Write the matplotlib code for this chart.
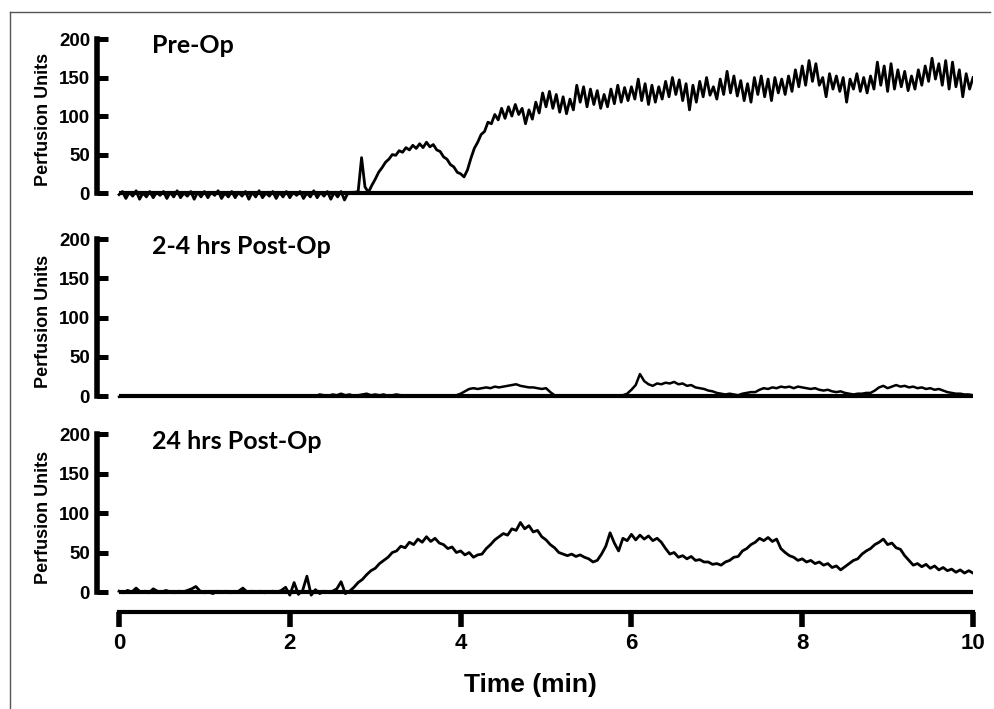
import matplotlib
matplotlib.use("Agg")
import matplotlib.pyplot as plt
import numpy as np
from matplotlib.lines import Line2D

# ---------------------------------------------------------------------------
# Data (perfusion units vs time in min)
# ---------------------------------------------------------------------------
panel_titles = ["Pre-Op", "2-4 hrs Post-Op", "24 hrs Post-Op"]
y_ticks = [0, 50, 100, 150, 200]
x_ticks = [0, 2, 4, 6, 8, 10]

# Pre-Op, sampled every 0.04 min
pre_op = [
    -2, 2, -7, 1, -4, 3, -8, 0, -5, 2, -6, 1, -3, 2, -7, 1, -5, 3, -6, 0,
    -4, 2, -8, 1, -5, 2, -6, 1, -3, 3, -7, 0, -5, 2, -6, 1, -4, 2, -8, 1,
    -5, 3, -6, 0, -4, 2, -7, 1, -5, 2, -6, 1, -3, 2, -7, 0, -5, 3, -6, 1,
    -4, 2, -8, 1, -5, 2, -9, 0, 1, 1, 2, 46, 8, 1, 10, 18, 27, 33, 40, 44,
    50, 49, 55, 53, 59, 56, 62, 58, 64, 59, 66, 60, 63, 56, 54, 47, 44, 37, 34, 27,
    25, 21, 30, 45, 58, 66, 76, 80, 92, 90, 102, 95, 110, 97, 112, 100, 115, 102, 110, 90,
    108, 96, 118, 104, 130, 112, 132, 110, 128, 105, 125, 103, 122, 108, 140, 118, 138, 112, 135, 115,
    133, 110, 128, 112, 135, 116, 140, 118, 137, 120, 138, 122, 148, 120, 142, 115, 140, 118, 138, 122,
    145, 125, 150, 128, 147, 120, 142, 108, 140, 118, 145, 125, 150, 127, 138, 122, 148, 128, 158, 130,
    152, 126, 146, 120, 142, 118, 150, 128, 152, 125, 148, 120, 150, 130, 148, 128, 152, 132, 160, 138,
    165, 140, 172, 145, 168, 140, 150, 125, 155, 135, 152, 132, 150, 118, 148, 135, 155, 132, 150, 130,
    152, 135, 170, 140, 165, 132, 168, 135, 160, 138, 158, 133, 152, 135, 160, 140, 165, 145, 175, 148,
    168, 140, 172, 135, 170, 138, 160, 125, 155, 135, 150,
]

# 2-4 hrs Post-Op, sampled every 0.05 min
post_2_4 = [
    -1, 0, -1, 0, -1, 0, -1, 0, -1, 0, -1, 0, 0, 0, 0, 0, 0, 0, 0, 0,
    0, 0, 0, 0, 0, 0, 0, 0, 0, 0, 0, 0, 0, 0, 0, 0, 0, 0, 0, 0,
    0, 0, 0, 0, 0, 1, 0, 2, 1, 0, 2, 1, 3, 1, 2, 0, 1, 2, 3, 1,
    2, 1, 2, 0, 1, 2, 1, 0, 0, 1, 0, 0, 1, 0, 0, 1, 0, 0, 1, 1,
    3, 6, 9, 10, 9, 10, 11, 10, 12, 11, 12, 13, 14, 15, 13, 12, 11, 11, 10, 9,
    10, 5, 1, 0, 0, 0, 0, 0, 0, 0, 0, 0, 0, 0, 0, 0, 0, 0, 1, 3,
    8, 14, 28, 19, 15, 13, 16, 15, 17, 16, 18, 15, 16, 13, 14, 11, 10, 9, 7, 6,
    4, 3, 2, 3, 2, 1, 3, 4, 5, 5, 8, 10, 9, 11, 10, 12, 11, 12, 10, 12,
    11, 10, 9, 10, 8, 7, 8, 6, 5, 6, 4, 3, 2, 3, 3, 4, 4, 7, 11, 13,
    10, 12, 14, 12, 13, 11, 12, 10, 11, 9, 10, 8, 9, 7, 5, 4, 3, 3, 2, 2,
    1,
]

# 24 hrs Post-Op, sampled every 0.05 min
post_24 = [
    1, -1, 2, 0, 5, 0, 1, -1, 4, 1, 0, 2, 0, -1, 1, 0, 2, 4, 7, 1,
    -1, 0, -2, 1, 0, 1, -1, 0, 1, 5, 0, 1, 0, 1, -1, 0, 1, 0, 2, 6,
    -4, 12, -3, 2, 20, -4, 3, -2, 1, 0, 1, 4, 13, -2, 1, 6, 12, 16, 22, 27,
    30, 36, 40, 44, 50, 52, 58, 56, 63, 60, 67, 63, 70, 64, 68, 62, 60, 55, 57, 50,
    52, 47, 50, 44, 47, 48, 55, 60, 66, 70, 74, 72, 80, 78, 88, 80, 84, 76, 78, 70,
    66, 60, 56, 50, 48, 46, 48, 45, 47, 44, 42, 38, 40, 48, 58, 75, 62, 52, 68, 65,
    73, 66, 72, 67, 71, 65, 68, 63, 55, 48, 50, 44, 46, 42, 45, 40, 41, 38, 38, 35,
    36, 34, 38, 40, 44, 45, 52, 55, 60, 63, 68, 65, 69, 64, 67, 55, 50, 46, 44, 40,
    42, 38, 40, 36, 38, 34, 36, 31, 33, 28, 32, 36, 40, 42, 48, 52, 55, 60, 63, 67,
    60, 62, 56, 54, 46, 40, 34, 36, 32, 35, 30, 33, 28, 31, 27, 29, 25, 28, 24, 27,
    24,
]

series = [pre_op, post_2_4, post_24]

# ---------------------------------------------------------------------------
FONT = ["Liberation Sans", "DejaVu Sans"]
TITLE_FONT = ["Lato", "DejaVu Sans"]
plt.rcParams["font.family"] = FONT

fig = plt.figure(figsize=(9.95, 7.09), dpi=100)

# axes rectangles (left, bottom, width, height) in figure fraction
rects = [
    (0.0975, 0.7114, 0.8804, 0.2390),
    (0.0975, 0.4248, 0.8804, 0.2436),
    (0.0975, 0.1483, 0.8804, 0.2451),
]
title_y = [192, 190, 190]
trace_lw = [2.0, 1.8, 2.0]

axes = []
for k, (vals, title) in enumerate(zip(series, panel_titles)):
    ax = fig.add_axes(rects[k])
    t = np.linspace(0, 10, len(vals))
    ax.plot(t, vals, color="black", lw=trace_lw[k], zorder=2)
    ax.plot([0, 10], [0, 0], color="black", lw=3.0, solid_capstyle="butt", zorder=3)

    ax.set_xlim(-0.258, 10.0)
    ax.set_ylim(-15, 205)
    for s in ("top", "right"):
        ax.spines[s].set_visible(False)
    ax.spines["left"].set_linewidth(4.0)
    ax.spines["left"].set_bounds(0, 200)
    ax.set_yticks(y_ticks)
    ax.tick_params(axis="y", direction="in", length=8, width=3.6, pad=5,
                   labelsize=13.5)
    for lab in ax.get_yticklabels():
        lab.set_fontweight("bold")
    ax.set_ylabel("Perfusion Units", fontsize=13, fontweight="bold", labelpad=5)

    ax.text(0.39, title_y[k], title, family=TITLE_FONT, fontsize=18,
            fontweight="bold", ha="left", va="center")

    if k < 2:
        ax.spines["bottom"].set_visible(False)
        ax.set_xticks([])
    else:
        ax.spines["bottom"].set_position(("outward", 6))
        ax.spines["bottom"].set_bounds(0, 10)
        ax.spines["bottom"].set_linewidth(3.0)
        ax.set_xticks(x_ticks)
        ax.tick_params(axis="x", direction="out", length=11, width=4, pad=4,
                       labelsize=16)
        for lab in ax.get_xticklabels():
            lab.set_fontweight("bold")
    axes.append(ax)

fig.align_ylabels(axes)

fig.text(0.533, 1 - 685 / 709, "Time (min)", fontsize=19, fontweight="bold",
         ha="center", va="center")

# thin frame around the figure (left and top edges visible)
fig.add_artist(Line2D([0.010, 0.010], [0.0, 0.983], color="#555555", lw=1.0,
                      transform=fig.transFigure))
fig.add_artist(Line2D([0.010, 0.995], [0.983, 0.983], color="#555555", lw=1.0,
                      transform=fig.transFigure))

fig.savefig("out.png", dpi=100)
